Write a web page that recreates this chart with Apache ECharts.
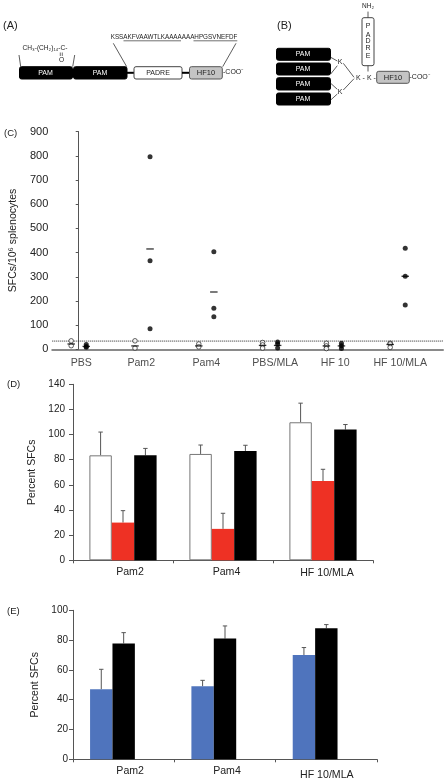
<!DOCTYPE html>
<html><head><meta charset="utf-8">
<script src="https://cdn.jsdelivr.net/npm/echarts@6/dist/echarts.min.js"></script>
<style>html,body{margin:0;padding:0;background:#fff}#c{width:448px;height:781px}</style>
</head><body><div id="c"></div>
<script>
// Panel C
const cCategories = ['PBS','Pam2','Pam4','PBS/MLA','HF 10','HF 10/MLA'];
const cLabelSlots = [0.04,0.98,2,3.08,4.02,5.04];
const cWhite = [[35,15],[35,5],[22,10],[28,18,5],[25,14,3],[25,22,8]];
const cBlack = [[20,12,8],[796,366,85],[403,170,135],[30,22,5],[25,15,3],[418,302,183]];
const cWhiteMean = [22,14,14,16,14,20];
const cBlackMean = [12,415,237,16,14,302];
const cCutoff = 34;
// Panel D
const dCategories = ['Pam2','Pam4','HF 10/MLA'];
const dWhite = [83.5,84.6,109.8];
const dWhiteTop = [102,91.7,125];
const dRed = [30,25,63];
const dRedTop = [39.5,37.4,72.4];
const dBlack = [83.5,87,104];
const dBlackTop = [89,91.5,108];
// Panel E
const eCategories = ['Pam2','Pam4','HF 10/MLA'];
const eBlue = [47,49,70];
const eBlueTop = [60.4,53,75];
const eBlack = [77.8,81,88];
const eBlackTop = [85,89.5,90.4];

const FONT = '"Liberation Sans", Arial, sans-serif';
const AX = '#555';
const BW = 22.4;
const slotOff = 0.118;

function pts(groups, off){ const o=[]; groups.forEach((g,i)=>g.forEach(v=>o.push([i+off,v]))); return o; }
function means(arr, off){ return arr.map((v,i)=>[i+off,v]); }

function errSeries(xi, yi, base, top, slot){
  return {type:'custom', xAxisIndex:xi, yAxisIndex:yi, z:1, silent:true,
    data: base.map((b,i)=>[i,b,top[i]]),
    renderItem(p,api){
      const a=api.coord([api.value(0),api.value(1)]), b=api.coord([api.value(0),api.value(2)]);
      const x=a[0]+slot*BW;
      const st={stroke:'#555',lineWidth:1,fill:null};
      return {type:'group',children:[
        {type:'line',shape:{x1:x,y1:a[1],x2:x,y2:b[1]},style:st},
        {type:'line',shape:{x1:x-2.2,y1:b[1],x2:x+2.2,y2:b[1]},style:st}
      ]};
    }};
}
function bar(xi, yi, data, color, border){
  return {type:'bar',xAxisIndex:xi,yAxisIndex:yi,data,barWidth:BW,barGap:0,z:2,silent:true,
    itemStyle:{color,borderColor:border||color,borderWidth:border?1:0}};
}
function yAxis(gi,min,max,interval,fs,name,gap,margin,tick){
  return {type:'value',gridIndex:gi,min,max,interval,
    name,nameLocation:'middle',nameGap:gap,nameTextStyle:{fontFamily:FONT,fontSize:10.5,color:'#222'},
    axisLine:{show:true,lineStyle:{color:AX,width:1}},
    axisTick:{show:true,length:tick,lineStyle:{color:AX}},
    axisLabel:{fontFamily:FONT,fontSize:fs,color:'#222',margin},
    splitLine:{show:false}};
}
function catAxis(gi,cats,shifts,tops){
  return {type:'category',gridIndex:gi,
    data:cats.map((c,i)=>({value:c,textStyle:{padding:[tops[i],0,0,shifts[i]]}})),
    axisLine:{lineStyle:{color:AX,width:1}},
    axisTick:{show:true,length:3,lineStyle:{color:AX}},
    axisLabel:{fontFamily:FONT,fontSize:10.6,color:'#222',margin:6,interval:0},
    splitLine:{show:false}};
}

// ---- diagrams
const g=[];
function box(x1,y1,x2,y2,fill,stroke){g.push({type:'rect',shape:{x:x1,y:y1,width:x2-x1,height:y2-y1,r:2},style:{fill,stroke:stroke||fill,lineWidth:1}});}
function ln(x1,y1,x2,y2,w,c){g.push({type:'line',shape:{x1,y1,x2,y2},style:{stroke:c||'#333',lineWidth:w||0.8}});}
function tx(text,x,y,fs,fill,align){g.push({type:'text',x,y,style:{text,fontFamily:FONT,fontSize:fs,fill:fill||'#222',align:align||'center',verticalAlign:'middle'},z:5});}

tx('(A)',3,26,11,'#222','left');
tx('(B)',277,26,11,'#222','left');
tx('(C)',4,133,9.5,'#222','left');
tx('(D)',7,384,9.5,'#222','left');
tx('(E)',7,611,9.5,'#222','left');

box(19.5,66.7,72.5,79,'#000');
box(73.5,66.7,127,79,'#000');
tx('PAM',45.5,73,7,'#fff'); tx('PAM',100,73,7,'#fff');
ln(127,72.8,134,72.8,2,'#000');
box(134,66.7,182,79,'#fff','#444');
tx('PADRE',158,73,7,'#222');
ln(182,72.8,190,72.8,2,'#000');
box(189.5,66.7,222.3,79,'#c4c4c4','#555');
tx('HF10',206,73,7.5,'#222');
tx('-COO\u207b',223,72.5,7,'#222','left');
tx('CH\u2083-(CH\u2082)\u2081\u2084-C-',22.5,47.7,6.6,'#222','left');
tx('O',61.5,60.5,6.6,'#222');
ln(60.3,52.5,60.3,56,0.7); ln(62.3,52.5,62.3,56,0.7);
ln(19,55,20.7,66.7); ln(74.7,55,72.7,66.7);
tx('KSSAKFVAAWTLKAAAAAAAHPGSVNEFDF',110.7,37,6.3,'#222','left');
ln(123.5,40.8,181,40.8,0.7); ln(193.5,40.8,237.3,40.8,0.7);
ln(113.3,43.3,126.7,66.7); ln(236,43.3,222.7,66.7);

[[48.3,60.3],[63,75],[77.7,90],[93,105]].forEach(r=>{box(276.5,r[0],330.5,r[1],'#000');tx('PAM',303,(r[0]+r[1])/2,7,'#fff');});
tx('K',340,61.7,7); tx('K',340,91.7,7);
tx('K - K -',356,77.7,7,'#222','left');
ln(330.7,57.3,337.3,61);ln(330.7,74,337.3,65.7);ln(330.7,83.3,337.3,89.3);ln(330.7,100,337.3,94);
ln(343.3,63.3,354,77.3);ln(343.3,90,354,78.7);
box(362,17.7,374,65.7,'#fff','#444');
[['P',26],['A',34.7],['D',41.5],['R',48.5],['E',56]].forEach(t=>tx(t[0],368,t[1],7,'#222'));
tx('NH\u2082',368,6.5,6.5);
ln(368,11.6,368,17.7);ln(368,65.7,368,71.5);
box(376.7,71.3,409.3,83.3,'#c4c4c4','#555');
tx('HF10',393,77.5,7.5,'#222');
tx('-COO\u207b',409.5,76.8,7,'#222','left');

const dash=(d)=>({type:'scatter',xAxisIndex:0,yAxisIndex:0,data:d,symbol:'rect',symbolSize:[7.5,1.3],itemStyle:{color:'#000'},z:4,silent:true});

const option={
  animation:false,
  graphic:g,
  grid:[
    {left:52,top:131.7,width:391,height:217.6},
    {left:73,top:384.3,width:300,height:176},
    {left:73,top:610.3,width:304,height:149}
  ],
  xAxis:[
    {type:'value',gridIndex:0,min:-0.415,max:5.71,axisLine:{lineStyle:{color:'#8a8a8a',width:2}},axisTick:{show:false},axisLabel:{show:false},splitLine:{show:false}},
    catAxis(1,dCategories,[14,7,8],[0,0,1]),
    catAxis(2,eCategories,[13,4,1],[0,0,4])
  ],
  yAxis:[
    yAxis(0,0,900,100,11,'SFCs/10\u2076 splenocytes',33,4,3),
    yAxis(1,0,140,20,10,'Percent SFCs',32,8,4),
    yAxis(2,0,100,20,10,'Percent SFCs',26.5,5,4)
  ],
  series:[
    {type:'line',xAxisIndex:0,yAxisIndex:0,data:[[-0.415,cCutoff],[5.71,cCutoff]],showSymbol:false,silent:true,
      lineStyle:{color:'#222',width:1,type:[1,1]},z:1},
    {type:'scatter',xAxisIndex:0,yAxisIndex:0,data:pts(cWhite,-slotOff),symbol:'circle',symbolSize:4.6,
      itemStyle:{color:'#fff',borderColor:'#222',borderWidth:0.9},z:2,silent:true},
    {type:'scatter',xAxisIndex:0,yAxisIndex:0,data:pts(cBlack,slotOff),symbol:'circle',symbolSize:5,
      itemStyle:{color:'#000'},z:3,silent:true},
    dash(means(cWhiteMean,-slotOff)),
    dash(means(cBlackMean,slotOff)),
    {type:'scatter',xAxisIndex:0,yAxisIndex:0,data:cCategories.map((c,i)=>({name:c,value:[cLabelSlots[i],0]})),
      symbolSize:0,silent:true,
      label:{show:true,position:'bottom',distance:8,formatter:'{b}',fontFamily:FONT,fontSize:10.6,color:'#222'}},

    bar(1,1,dWhite,'#fff','#777'),
    bar(1,1,dRed,'#ee3124'),
    bar(1,1,dBlack,'#000'),
    errSeries(1,1,dWhite,dWhiteTop,-1),
    errSeries(1,1,dRed,dRedTop,0),
    errSeries(1,1,dBlack,dBlackTop,1),

    bar(2,2,eBlue,'#4f74bd'),
    bar(2,2,eBlack,'#000'),
    bar(2,2,[null,null,null],'#fff'),
    errSeries(2,2,eBlue,eBlueTop,-1),
    errSeries(2,2,eBlack,eBlackTop,0)
  ]
};
const chart=echarts.init(document.getElementById('c'),null,{renderer:'canvas'});
chart.setOption(option);
</script></body></html>
